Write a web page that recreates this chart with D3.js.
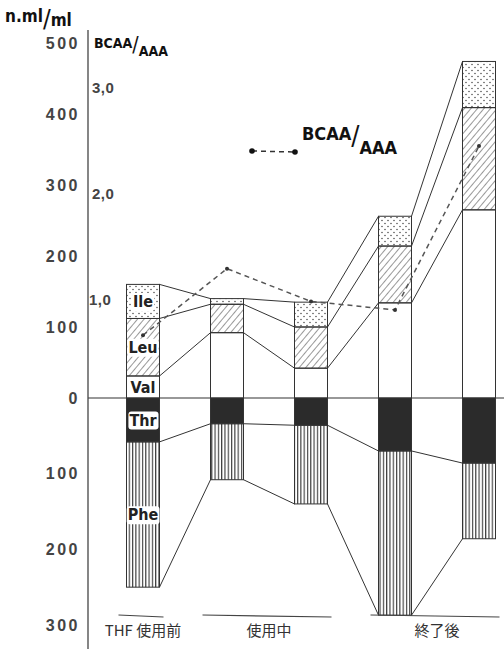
<!DOCTYPE html>
<html>
<head>
<meta charset="utf-8">
<script src="https://cdn.jsdelivr.net/npm/d3@7"></script>
<style>
  body { margin: 0; background: #fff; }
  svg { display: block; }
  .cond { font-family: "DejaVu Sans Condensed", "Liberation Sans Narrow", sans-serif; font-weight: bold; }
  .tick-lbl { font-family: "Liberation Sans", Arial, sans-serif; font-weight: bold; fill: #444; }
  .jp { font-family: "Noto Sans CJK JP", sans-serif; fill: #333; }
</style>
</head>
<body>
<div class="chart"></div>
<script>
// groepen (kolommen) van links naar rechts
var groups = ["A", "B", "C", "D", "E"];
// positieve aminozuren (gestapeld boven nul), n.ml/ml
var val = [31, 92, 42, 134, 265];
var leu = [81, 40, 58, 80, 144];
var ile = [48, 8, 35, 42, 65];
// negatieve aminozuren (onder nul)
var thr = [58, 34, 36, 70, 86];
var phe = [192, 74, 104, 217, 100];
// BCAA/AAA verhouding
var ratio = [0.66, 1.29, 0.98, 0.90, 2.45];

var leftTicks = [500, 400, 300, 200, 100, 0, -100, -200, -300];
var ratioTicks = [1, 2, 3];
var periods = [
  { label: "THF 使用前", from: "A", to: "A" },
  { label: "使用中", from: "B", to: "C" },
  { label: "終了後", from: "D", to: "E" }
];

var width = 504, height = 649;
var svg = d3.select(".chart").append("svg")
  .attr("width", width).attr("height", height);

// schalen (hand getekende as: boven en onder nul andere schaal)
var x = d3.scalePoint().domain(groups).range([143, 479]);
var y = d3.scaleLinear().domain([-300, 0, 500]).range([625, 398, 43]);
var yr = d3.scaleLinear().domain([0, 3]).range([405, 88]);
var bw = 33;

// patronen
var defs = svg.append("defs");
var dots = defs.append("pattern").attr("id", "dots")
  .attr("patternUnits", "userSpaceOnUse").attr("width", 6).attr("height", 6);
dots.append("circle").attr("cx", 1).attr("cy", 1.5).attr("r", 0.75).attr("fill", "#444");
dots.append("circle").attr("cx", 4).attr("cy", 4.5).attr("r", 0.75).attr("fill", "#444");
var hatch = defs.append("pattern").attr("id", "hatch")
  .attr("patternUnits", "userSpaceOnUse").attr("width", 5).attr("height", 5)
  .attr("patternTransform", "rotate(40)");
hatch.append("line").attr("x1", 0).attr("y1", 0).attr("x2", 0).attr("y2", 5)
  .attr("stroke", "#333").attr("stroke-width", 1);
var vstripe = defs.append("pattern").attr("id", "vstripe")
  .attr("patternUnits", "userSpaceOnUse").attr("width", 3.3).attr("height", 10);
vstripe.append("line").attr("x1", 0.6).attr("y1", 0).attr("x2", 0.6).attr("y2", 10)
  .attr("stroke", "#333").attr("stroke-width", 1.1);

// data per kolom met grenzen
var data = groups.map(function (g, i) {
  return {
    g: g,
    segs: [
      { name: "Val", y0: 0, y1: val[i], fill: "#fff" },
      { name: "Leu", y0: val[i], y1: val[i] + leu[i], fill: "url(#hatch)" },
      { name: "Ile", y0: val[i] + leu[i], y1: val[i] + leu[i] + ile[i], fill: "url(#dots)" },
      { name: "Thr", y0: -thr[i], y1: 0, fill: "#2b2b2b" },
      { name: "Phe", y0: -thr[i] - phe[i], y1: -thr[i], fill: "url(#vstripe)" }
    ],
    bounds: [val[i] + leu[i] + ile[i], val[i] + leu[i], val[i], -thr[i], -thr[i] - phe[i]]
  };
});

// verbindingslijnen tussen kolommen
var links = [];
for (var i = 0; i < data.length - 1; i++) {
  data[i].bounds.forEach(function (b, k) {
    links.push({ x1: x(data[i].g) + bw / 2, y1: y(b), x2: x(data[i + 1].g) - bw / 2, y2: y(data[i + 1].bounds[k]) });
  });
}
svg.append("g").selectAll("line").data(links).enter().append("line")
  .attr("x1", d => d.x1).attr("y1", d => d.y1)
  .attr("x2", d => d.x2).attr("y2", d => d.y2)
  .attr("stroke", "#333").attr("stroke-width", 1);

// nullijn
svg.append("line").attr("x1", 88).attr("x2", width).attr("y1", y(0)).attr("y2", y(0))
  .attr("stroke", "#333").attr("stroke-width", 1.2);

// kolommen
var col = svg.append("g").selectAll("g").data(data).enter().append("g");
col.selectAll("rect").data(d => d.segs.map(s => Object.assign({ g: d.g }, s))).enter().append("rect")
  .attr("x", d => x(d.g) - bw / 2)
  .attr("width", bw)
  .attr("y", d => y(d.y1))
  .attr("height", d => y(d.y0) - y(d.y1))
  .attr("fill", d => d.fill)
  .attr("stroke", "#333").attr("stroke-width", 1);

// labels in eerste kolom
var first = data[0];
first.segs.forEach(function (s) {
  var cy = (y(s.y0) + y(s.y1)) / 2;
  var t = svg.append("text").attr("class", "cond")
    .attr("x", x(first.g)).attr("y", cy).attr("dy", "0.35em")
    .attr("text-anchor", "middle").attr("font-size", 16).attr("fill", "#222")
    .text(s.name);
  var bb = t.node().getBBox();
  svg.insert("rect", "text").attr("x", bb.x - 1).attr("y", bb.y + 1)
    .attr("width", bb.width + 2).attr("height", bb.height - 1)
    .attr("rx", 3).attr("fill", "#fff");
});

// BCAA/AAA lijn
var line = d3.line().x((d, i) => x(groups[i])).y(d => yr(d));
svg.append("path").datum(ratio).attr("d", line)
  .attr("fill", "none").attr("stroke", "#555").attr("stroke-width", 1.5)
  .attr("stroke-dasharray", "5,4");
svg.append("g").selectAll("circle").data(ratio).enter().append("circle")
  .attr("cx", (d, i) => x(groups[i])).attr("cy", d => yr(d)).attr("r", 2)
  .attr("fill", "#333");

// linker as
svg.append("line").attr("x1", 88).attr("x2", 88).attr("y1", 30).attr("y2", height)
  .attr("stroke", "#444").attr("stroke-width", 1.3);
svg.append("g").selectAll("text").data(leftTicks).enter().append("text")
  .attr("class", "tick-lbl")
  .attr("x", 80).attr("y", d => y(d)).attr("dy", "0.35em")
  .attr("text-anchor", "end").attr("font-size", 16).attr("letter-spacing", 2.5)
  .text(d => Math.abs(d));
svg.append("g").selectAll("text").data(ratioTicks).enter().append("text")
  .attr("class", "tick-lbl")
  .attr("x", d => d === 1 ? 89 : 92).attr("y", d => yr(d)).attr("dy", "0.35em")
  .attr("font-size", 15).attr("letter-spacing", 0.5)
  .text(d => d3.format(".1f")(d).replace(".", ","));

// tekst met grote schuine streep: a / b (een tekstelement met tspans)
function slashText(x0, yb, fs, a, b, drop) {
  var t = svg.append("text").attr("class", "cond").attr("fill", "#111")
    .attr("x", x0).attr("y", yb).attr("font-size", fs);
  t.append("tspan").text(a);
  t.append("tspan").attr("dy", fs * 0.3)
    .attr("font-size", fs * 1.5).attr("font-weight", "normal").text("/");
  t.append("tspan").attr("dy", fs * (drop - 0.3)).text(b);
}
slashText(5, 22, 17, "n.ml", "ml", 0.25);
slashText(94, 48, 14, "BCAA", "AAA", 0.6);
slashText(302, 140, 18, "BCAA", "AAA", 0.8);

// legenda
svg.append("line").attr("x1", 252).attr("x2", 295).attr("y1", 151).attr("y2", 152)
  .attr("stroke", "#333").attr("stroke-width", 1.5).attr("stroke-dasharray", "5,4");
svg.append("circle").attr("cx", 252).attr("cy", 151).attr("r", 2.8).attr("fill", "#111");
svg.append("circle").attr("cx", 295).attr("cy", 152).attr("r", 2.8).attr("fill", "#111");

// periodes onderaan
var pg = svg.append("g").selectAll("g").data(periods).enter().append("g");
pg.append("line")
  .attr("x1", d => x(d.from) - bw / 2 - 8).attr("x2", d => x(d.to) + bw / 2 + 4)
  .attr("y1", 615).attr("y2", 617)
  .attr("stroke", "#444").attr("stroke-width", 1.2);
pg.append("text").attr("class", "jp")
  .attr("x", d => (x(d.from) + x(d.to)) / 2).attr("y", 636)
  .attr("text-anchor", "middle").attr("font-size", 15)
  .text(d => d.label);
</script>
</body>
</html>
